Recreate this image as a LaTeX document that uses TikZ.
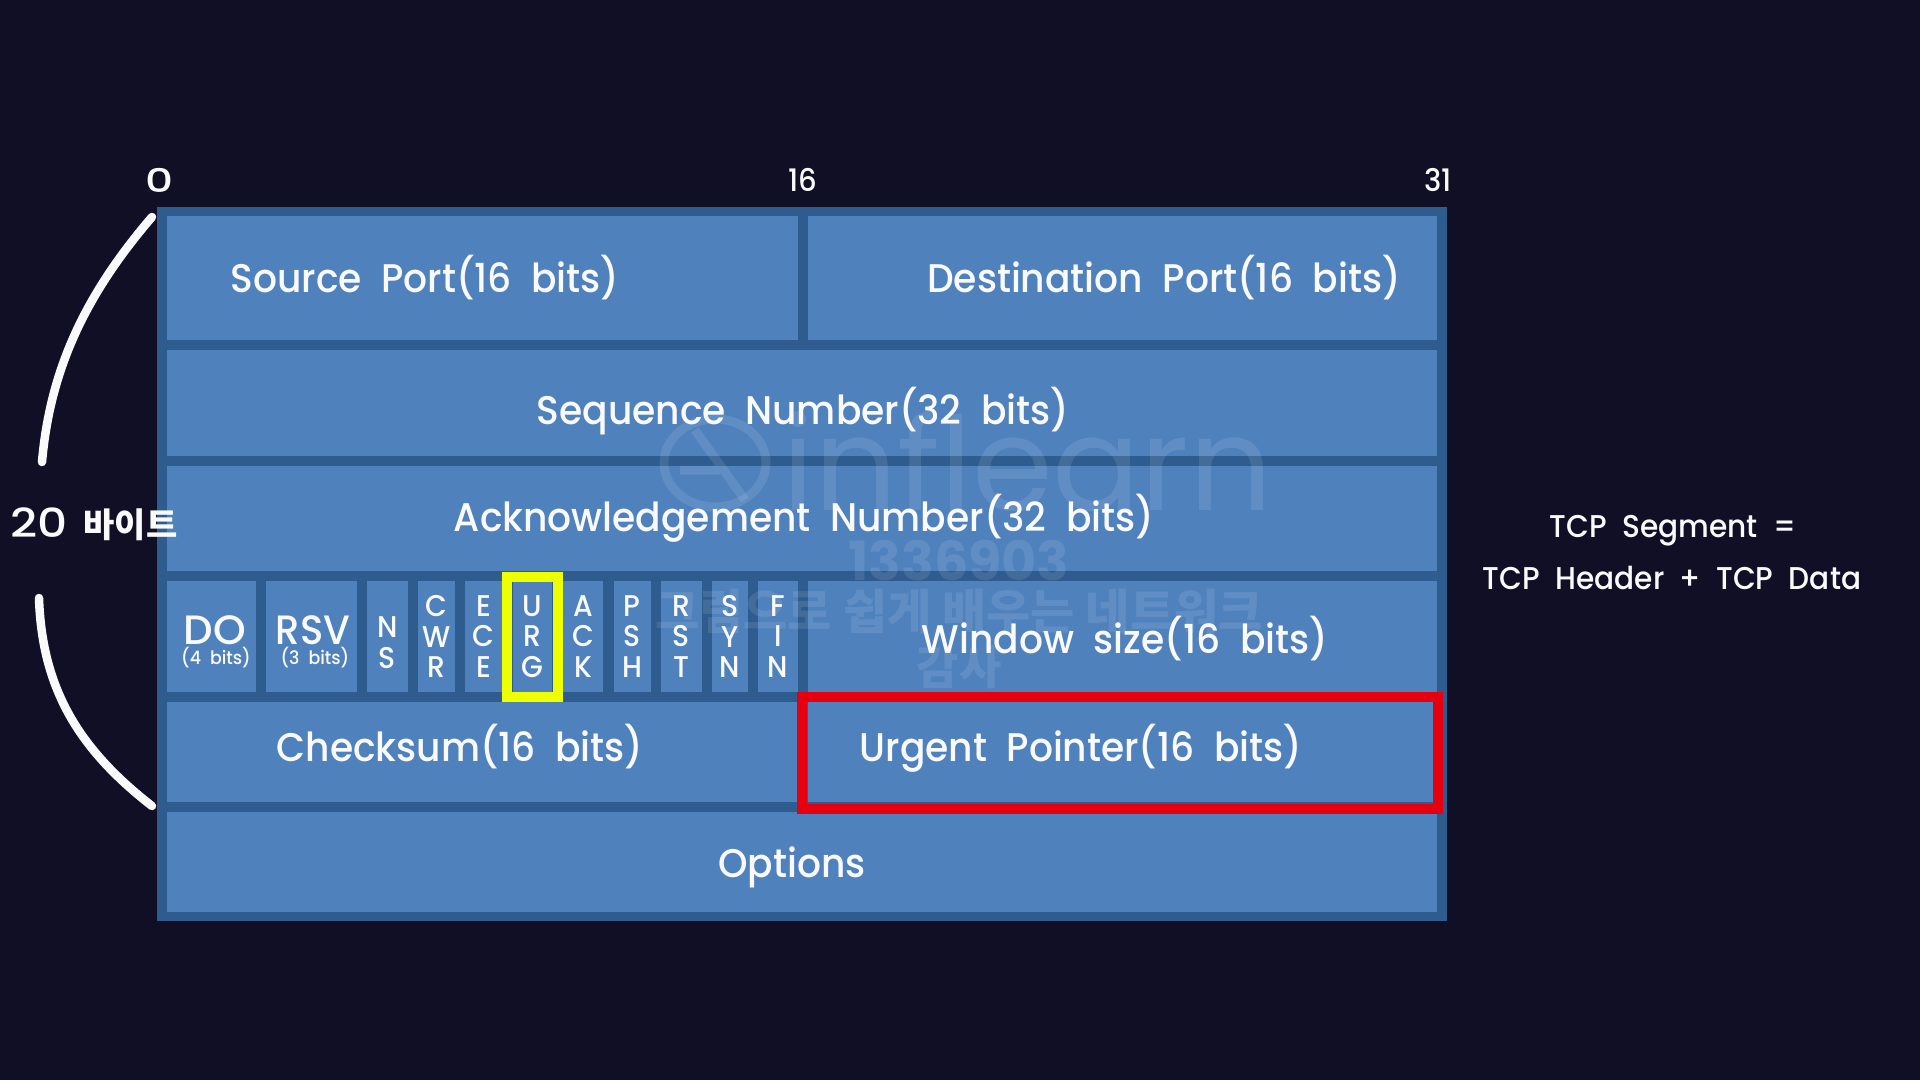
\documentclass[tikz,border=0pt]{standalone}
\usepackage{fontspec}
\setmainfont[WordSpace=2.0,FakeStretch=0.94]{Poppins Medium}
\newfontfamily\krfont{Noto Sans CJK KR}
\newfontfamily\wmfont{Poppins}
\newfontfamily\wmbold{Poppins Bold}
\definecolor{bgc}{HTML}{110F26}
\definecolor{framec}{HTML}{2E5C8E}
\definecolor{cellc}{HTML}{4F81BD}
\definecolor{redc}{HTML}{E6000F}
\definecolor{yelc}{HTML}{EEFF00}
\definecolor{inkc}{HTML}{FAFAFC}
\newcommand{\cellbox}[6]{%
  \node[cellbox,minimum width={(#4-#2)*1pt},minimum height={(#5-#3)*1pt}] (#1) at ({(#2+#4)/2},{(#3+#5)/2}) {#6};}
\newcommand{\flagcell}[4]{\cellbox{#1}{#2}{581}{#3}{692}{#4}}
\tikzset{
  cellbox/.style={rectangle,fill=cellc,draw=none,inner sep=0pt,outer sep=0pt},
  lab/.style={text=inkc,inner sep=0pt,font=\fontsize{40}{40}\selectfont},
  flag/.style={text=inkc,inner sep=0pt,align=center,font=\fontsize{30}{30.5}\selectfont},
  num/.style={text=inkc,inner sep=0pt,font=\fontsize{31}{31}\selectfont},
  side/.style={text=inkc,inner sep=0pt,font=\fontsize{31.5}{31.5}\selectfont},
  arcline/.style={draw=inkc,line width=8.5pt,line cap=round},
  wm/.style={text=white,text opacity=0.10,inner sep=0pt},
}
\begin{document}
\begin{tikzpicture}[x=1pt,y=-1pt]
\useasboundingbox (0,0) rectangle (1920,1080);
\fill[bgc] (0,0) rectangle (1920,1080);
\node[rectangle,fill=framec,inner sep=0pt,minimum width=1290pt,minimum height=714pt] (frame) at (802,564) {};
\cellbox{src}{167}{216}{798}{340}{}
\cellbox{dst}{808}{216}{1437}{340}{}
\cellbox{seq}{167}{350}{1437}{456}{}
\cellbox{ack}{167}{466}{1437}{571}{}
\flagcell{do}{167}{256}{}
\flagcell{rsv}{266}{357}{}
\flagcell{ns}{367}{408}{}
\flagcell{cwr}{418}{455}{}
\flagcell{ece}{465}{502}{}
\flagcell{urg}{512.5}{552}{}
\flagcell{ackf}{563}{603}{}
\flagcell{psh}{613.5}{651}{}
\flagcell{rst}{661}{702}{}
\flagcell{syn}{711.5}{748}{}
\flagcell{fin}{758}{798}{}
\cellbox{win}{808}{581}{1437}{692}{}
\cellbox{chk}{167}{702}{798}{802}{}
\cellbox{urp}{808}{702}{1437}{802}{}
\cellbox{opt}{167}{812}{1437}{912}{}
% watermark
\draw[white,opacity=0.10,line width=9pt] (715,463) circle[x radius=51,y radius=44];
\draw[white,opacity=0.10,line width=9pt] (695,430) -- (745,500) (680,470) -- (720,470);
\node[wm,font=\wmfont\fontsize{130}{130}\selectfont,anchor=base west] (wmlogo) at (782,510) {inflearn};
\node[wm,font=\wmbold\fontsize{54}{54}\selectfont] (wmnum) at (959,560) {1336903};
\node[wm,font=\krfont\bfseries\fontsize{48}{48}\selectfont] (wmkr) at (959,612) {그림으로 쉽게 배우는 네트워크};
\node[wm,font=\krfont\bfseries\fontsize{46}{46}\selectfont] (wmname) at (959,667) {감사};
% highlights
\node[rectangle,draw=yelc,line width=10pt,inner sep=0pt,minimum width=51pt,minimum height=120pt] (yel) at (532.5,637) {};
\node[rectangle,draw=redc,line width=10pt,inner sep=0pt,minimum width=636pt,minimum height=112pt] (red) at (1120,753) {};
% labels
\node[lab] (t1) at (425,278) {Source Port(16 bits)};
\node[lab] (t2) at (1164,278) {Destination Port(16 bits)};
\node[lab] (t3) at (803,411) {Sequence Number(32 bits)};
\node[lab] (t4) at (804,518) {Acknowledgement Number(32 bits)};
\node[lab] (t5) at (1125,639) {Window size(16 bits)};
\node[lab] (t6) at (460,747) {Checksum(16 bits)};
\node[lab] (t7) at (1081,748) {Urgent Pointer(16 bits)};
\node[lab] (t8) at (792,867) {Options};
\node[text=inkc,inner sep=0pt,font=\fontsize{41}{41}\selectfont] (tdo) at (215,630) {\scalebox{1.08}[1]{DO}};
\node[text=inkc,inner sep=0pt,font=\fontsize{18.5}{18.5}\selectfont] (tdob) at (216,658) {(4 bits)};
\node[text=inkc,inner sep=0pt,font=\fontsize{41}{41}\selectfont] (trsv) at (313,630) {RSV};
\node[text=inkc,inner sep=0pt,font=\fontsize{18.5}{18.5}\selectfont] (trsvb) at (315,658) {(3 bits)};
\node[flag,yshift=-6pt] at (ns) {N\\S};
\node[flag] at (cwr) {C\\W\\R};
\node[flag] at (ece) {E\\C\\E};
\node[flag] at (urg) {U\\R\\G};
\node[flag] at (ackf) {A\\C\\K};
\node[flag] at (psh) {P\\S\\H};
\node[flag] at (rst) {R\\S\\T};
\node[flag] at (syn) {S\\Y\\N};
\node[flag] at (fin) {F\\I\\N};
\node[num] (n0) at (160,180) {\scalebox{1.5}[1.05]{0}};
\node[num] (n16) at (803,180) {16};
\node[num] (n31) at (1438,180) {31};
\node[side] (s1) at (1673,531) {TCP Segment =};
\node[side] (s2) at (1672,578) {TCP Header + TCP Data};
\node[text=inkc,inner sep=0pt,font=\fontsize{40}{40}\selectfont] (bytes) at (94,524) {\scalebox{1.25}[1]{20}\hspace{16pt}{\krfont\bfseries\fontsize{34}{34}\selectfont 바이트}};
% arcs
\coordinate (a1) at (152,217);
\coordinate (a2) at (42,462);
\coordinate (b1) at (39,598);
\coordinate (b2) at (152,806);
\draw[arcline] (a1) .. controls (85,295) and (50,370) .. (a2);
\draw[arcline] (b1) .. controls (42,690) and (80,750) .. (b2);
\end{tikzpicture}
\end{document}
